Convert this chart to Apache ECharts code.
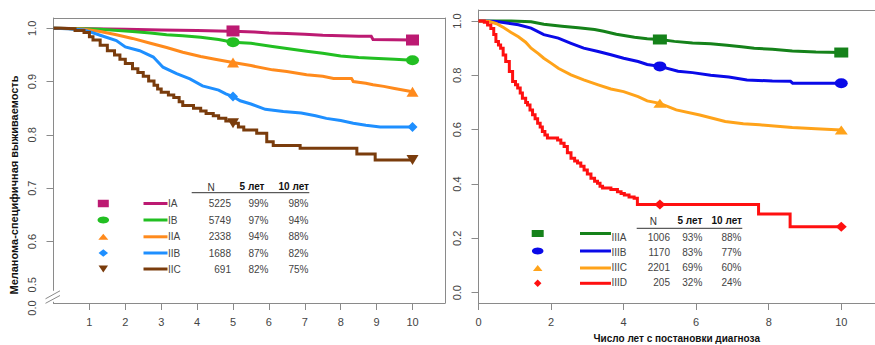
<!DOCTYPE html>
<html><head><meta charset="utf-8">
<script src="https://cdn.jsdelivr.net/npm/echarts@6/dist/echarts.min.js"></script>
<style>html,body{margin:0;padding:0;background:#fff}#c{width:875px;height:345px}</style>
</head><body><div id="c"></div>
<script>
// ---------------- DATA ----------------
// Left panel: stage I–II (time in years, melanoma-specific survival)
const IA  = [[0,1],[1,0.999],[2,0.998],[3,0.997],[4,0.996],[4.6,0.995],[5.2,0.994],[5.6,0.993],[6,0.991],[6.5,0.990],[7,0.989],[7.5,0.987],[8,0.986],[8.5,0.985],[8.85,0.985],[8.9,0.979],[10,0.978]];
const IB  = [[0,1],[0.8,0.999],[1.3,0.998],[1.8,0.996],[2.2,0.994],[2.7,0.991],[3.15,0.988],[3.6,0.986],[4.1,0.983],[4.6,0.979],[5,0.974],[5.5,0.972],[6.1,0.966],[6.5,0.962],[7.05,0.957],[7.5,0.953],[8.0,0.948],[8.5,0.945],[8.9,0.944],[9.5,0.942],[10,0.94]];
const IIA = [[0,1],[0.5,0.999],[0.85,0.998],[1.3,0.994],[1.75,0.988],[2.2,0.981],[2.7,0.972],[3.15,0.964],[3.6,0.955],[4.1,0.947],[4.5,0.942],[5,0.936],[5.5,0.93],[6.1,0.922],[6.5,0.919],[7.05,0.913],[7.5,0.91],[7.8,0.906],[8.3,0.906],[8.35,0.9],[8.7,0.897],[8.9,0.894],[9.2,0.891],[9.5,0.887],[10,0.881]];
const IIB = [[0,1],[0.4,0.999],[0.85,0.997],[1.3,0.987],[1.75,0.977],[2.0,0.965],[2.4,0.958],[2.78,0.946],[3.05,0.927],[3.43,0.915],[3.8,0.905],[4.15,0.892],[4.6,0.884],[4.8,0.877],[5,0.872],[5.2,0.864],[5.5,0.858],[5.9,0.848],[6.4,0.844],[6.9,0.841],[7.3,0.836],[7.6,0.831],[8.0,0.827],[8.35,0.822],[8.7,0.818],[9.1,0.815],[10,0.815]];
const IIC = [[0,1],[0.2,0.999],[0.6,0.996],[0.85,0.992],[1.0,0.984],[1.1,0.978],[1.3,0.968],[1.5,0.958],[1.7,0.95],[1.85,0.942],[2.0,0.934],[2.2,0.924],[2.35,0.917],[2.5,0.91],[2.65,0.901],[2.8,0.893],[2.9,0.886],[3.0,0.88],[3.2,0.875],[3.35,0.87],[3.5,0.862],[3.6,0.855],[3.9,0.85],[4.1,0.845],[4.25,0.84],[4.45,0.836],[4.6,0.831],[4.8,0.826],[5,0.822],[5.15,0.815],[5.3,0.809],[5.66,0.803],[5.94,0.787],[6.12,0.78],[6.87,0.775],[8.45,0.764],[8.96,0.753],[10,0.753]];
// Right panel: stage III
const IIIA = [[0,1],[0.9,1],[1.45,0.997],[1.8,0.988],[2.3,0.981],[2.75,0.975],[3.2,0.969],[3.45,0.962],[3.8,0.951],[4.3,0.94],[4.65,0.935],[5,0.932],[5.4,0.925],[5.9,0.919],[6.4,0.916],[6.85,0.911],[7.25,0.905],[7.6,0.9],[8.1,0.896],[8.65,0.89],[9.3,0.886],[10,0.884]];
const IIIB = [[0,1],[0.5,0.998],[1.1,0.986],[1.45,0.974],[1.8,0.95],[2.2,0.937],[2.55,0.918],[2.9,0.90],[3.3,0.888],[3.65,0.876],[4.0,0.863],[4.4,0.851],[4.65,0.84],[5,0.833],[5.5,0.815],[5.9,0.81],[6.4,0.80],[6.9,0.794],[7.4,0.783],[8.1,0.779],[8.6,0.778],[8.66,0.771],[10,0.771]];
const IIIC = [[0,1],[0.3,0.998],[0.5,0.99],[0.7,0.975],[0.9,0.958],[1.1,0.942],[1.3,0.922],[1.45,0.90],[1.65,0.88],[1.8,0.863],[2.0,0.845],[2.2,0.826],[2.55,0.802],[2.9,0.783],[3.3,0.765],[3.65,0.75],[4.0,0.74],[4.4,0.722],[4.65,0.706],[5,0.697],[5.45,0.673],[6.1,0.654],[6.8,0.63],[7.3,0.622],[7.75,0.618],[8.65,0.608],[9.3,0.603],[10,0.599]];
const IIID = [[0,1],[0.16,0.995],[0.25,0.985],[0.34,0.972],[0.42,0.95],[0.48,0.925],[0.55,0.912],[0.61,0.9],[0.68,0.875],[0.75,0.851],[0.85,0.814],[0.94,0.777],[1.02,0.765],[1.08,0.753],[1.15,0.735],[1.21,0.716],[1.3,0.70],[1.35,0.691],[1.42,0.672],[1.49,0.655],[1.56,0.64],[1.63,0.624],[1.7,0.61],[1.76,0.593],[1.83,0.58],[1.9,0.569],[2.18,0.562],[2.27,0.55],[2.36,0.538],[2.45,0.515],[2.55,0.495],[2.65,0.485],[2.73,0.477],[2.82,0.465],[2.91,0.452],[3.0,0.437],[3.1,0.421],[3.2,0.41],[3.28,0.403],[3.35,0.392],[3.42,0.385],[3.65,0.38],[3.83,0.372],[3.93,0.365],[4.02,0.36],[4.15,0.352],[4.29,0.348],[4.38,0.325],[7.72,0.29],[8.59,0.243],[10,0.243]];

const markerTimes = [5, 10];

const leftStages = ['IA','IB','IIA','IIB','IIC'];
const leftN      = [5225, 5749, 2338, 1688, 691];
const left5yr    = [99, 97, 94, 87, 82];
const left10yr   = [98, 94, 88, 82, 75];

const rightStages = ['IIIA','IIIB','IIIC','IIID'];
const rightN      = [1006, 1170, 2201, 205];
const right5yr    = [93, 83, 69, 32];
const right10yr   = [88, 77, 60, 24];

const tableHeaders = ['N', '5 лет', '10 лет'];

const leftXTicks  = [1,2,3,4,5,6,7,8,9,10];
const rightXTicks = [0,2,4,6,8,10];
const leftYTicks  = [0.5,0.6,0.7,0.8,0.9,1.0];
const rightYTicks = [0,0.2,0.4,0.6,0.8,1.0];

const yTitle = 'Меланома-специфичная выживаемость';
const xTitle = 'Число лет с постановки диагноза';

// ---------------- STYLE / LAYOUT ----------------
const FONT = '"Liberation Sans", Arial, Helvetica, sans-serif';
const AX = '#8a8a8a';
const TXT = '#444';
const ELLIPSE = 'path://M0,10a10,10 0 1,0 20,0a10,10 0 1,0 -20,0z';

const leftStyle = [
  {color:'#bc1a72', symbol:'rect', size:[13,11], rot:0, step:false},
  {color:'#22bf22', symbol:ELLIPSE, size:[13,10], rot:0, step:false},
  {color:'#ff8a1c', symbol:'triangle', size:[12,10], rot:0, step:false},
  {color:'#1e8fff', symbol:'diamond', size:[10,10], rot:0, step:false},
  {color:'#7a3c0c', symbol:'triangle', size:[12,10], rot:180, step:'end'}
];
const rightStyle = [
  {color:'#15821a', symbol:'rect', size:[14,10], rot:0, step:false},
  {color:'#0a0ae8', symbol:ELLIPSE, size:[13,10], rot:0, step:false},
  {color:'#ffa31a', symbol:'triangle', size:[13,9], rot:0, step:false},
  {color:'#ff1010', symbol:'diamond', size:[11,10], rot:0, step:'end'}
];
const leftCurves = [IA, IB, IIA, IIB, IIC];
const rightCurves = [IIIA, IIIB, IIIC, IIID];

const LEFT_Y_MIN = 0.4846, LEFT_Y_MAX = 1.0193, LEFT_X_MAX = 10.905;
const RIGHT_Y_MIN = -0.0379, RIGHT_Y_MAX = 1.0405, RIGHT_X_MAX = 10.93;

function valAt(arr, t){ let v = arr[0][1]; for (const p of arr){ if (p[0] <= t + 1e-9) v = p[1]; } return v; }

const series = [];
function addGroup(curves, styles, names, gi){
  curves.forEach((c, i) => {
    const s = styles[i];
    series.push({type:'line', name:names[i], xAxisIndex:gi*2, yAxisIndex:gi*2, data:c, step:s.step,
      showSymbol:false, symbol:'none', lineStyle:{color:s.color, width:3, join:'miter'}, itemStyle:{color:s.color},
      silent:true, animation:false, z:2});
    series.push({type:'scatter', name:names[i]+' m', xAxisIndex:gi*2, yAxisIndex:gi*2,
      data: markerTimes.map(t => [t, valAt(c, t)]), symbol:s.symbol, symbolSize:s.size, symbolRotate:s.rot,
      itemStyle:{color:s.color, opacity:1}, silent:true, animation:false, z:3});
  });
}
addGroup(leftCurves, leftStyle, leftStages, 0);
addGroup(rightCurves, rightStyle, rightStages, 1);

// ---------------- TABLES (graphic) ----------------
const graphic = [];
function markerShape(kind, x, y, w, h, color){
  const st = {fill: color};
  if (kind === 'rect') return {type:'rect', x, y, shape:{x:-w/2, y:-h/2, width:w, height:h}, style:st, z:100};
  if (kind === 'ellipse') return {type:'circle', x, y, scaleY:h/w, shape:{cx:0, cy:0, r:w/2}, style:st, z:100};
  if (kind === 'tri') return {type:'polygon', x, y, shape:{points:[[-w/2,h/2],[w/2,h/2],[0,-h/2]]}, style:st, z:100};
  if (kind === 'dtri') return {type:'polygon', x, y, shape:{points:[[-w/2,-h/2],[w/2,-h/2],[0,h/2]]}, style:st, z:100};
  return {type:'polygon', x, y, shape:{points:[[-w/2,0],[0,-h/2],[w/2,0],[0,h/2]]}, style:st, z:100};
}
function txt(text, x, y, align, bold, color){
  return {type:'text', x, y, z:100, style:{text:String(text), fill:color||TXT, font:(bold?'bold ':'')+'10px '+FONT,
    align:align, verticalAlign:'middle', textAlign:align, textVerticalAlign:'middle'}};
}
function buildTable(cfg){
  const {stages, N, y5, y10, styles, kinds, ksz, rowY, mkY, mx, lx0, lx1, labX, nX, c5X, c10X, hdrY, hN, h5, h10, ulY, ul0, ul1} = cfg;
  graphic.push(txt(tableHeaders[0], hN, hdrY+1, 'center', false, '#333'));
  graphic.push(txt(tableHeaders[1], h5, hdrY, 'right', true, '#111'));
  graphic.push(txt(tableHeaders[2], h10, hdrY, 'right', true, '#111'));
  graphic.push({type:'line', z:100, shape:{x1:ul0, y1:ulY, x2:ul1, y2:ulY}, style:{stroke:'#333', lineWidth:1}});
  stages.forEach((s, i) => {
    const col = styles[i].color;
    graphic.push(markerShape(kinds[i], mx, mkY[i], ksz[i][0], ksz[i][1], col));
    graphic.push({type:'line', z:100, shape:{x1:lx0, y1:mkY[i], x2:lx1, y2:mkY[i]}, style:{stroke:col, lineWidth:3}});
    graphic.push(txt(s, labX, rowY[i], 'left'));
    graphic.push(txt(N[i], nX, rowY[i], 'right'));
    graphic.push(txt(y5[i] + '%', c5X, rowY[i], 'right'));
    graphic.push(txt(y10[i] + '%', c10X, rowY[i], 'right'));
  });
}
buildTable({stages:leftStages, N:leftN, y5:left5yr, y10:left10yr, styles:leftStyle,
  kinds:['rect','ellipse','tri','diamond','dtri'], ksz:[[11,7.5],[11.5,7],[10,6],[9.5,7.5],[9.5,7]],
  rowY:[203.5,220,236.8,253,269], mkY:[203.5,220,236.8,253,269], mx:103.3, lx0:143.5, lx1:167.5, labX:168,
  nX:231, c5X:268.5, c10X:308.5, hdrY:186.5, hN:211, h5:264.5, h10:309, ulY:192.7, ul0:191.7, ul1:309.3});
buildTable({stages:rightStages, N:rightN, y5:right5yr, y10:right10yr, styles:rightStyle,
  kinds:['rect','ellipse','tri','diamond'], ksz:[[12,7],[11.5,7],[9.5,6],[7.5,7.5]],
  rowY:[237.5,252.5,267.8,282.8], mkY:[233.5,251,268,283.3], mx:537.7, lx0:580, lx1:611, labX:611.5,
  nX:670, c5X:702.3, c10X:741.5, hdrY:220.5, hN:653.3, h5:702.3, h10:742, ulY:228.3, ul0:636.7, ul1:742.3});

// axis break marks on the left panel
graphic.push({type:'rect', z:101, shape:{x:48.5, y:290.8, width:10, height:11}, style:{fill:'#fff'}});
graphic.push({type:'line', z:102, shape:{x1:45.5, y1:298.8, x2:60, y2:290.8}, style:{stroke:AX, lineWidth:1}});
graphic.push({type:'line', z:102, shape:{x1:45.5, y1:303.3, x2:60, y2:295.5}, style:{stroke:AX, lineWidth:1}});
// right panel y-axis overhang
graphic.push({type:'line', z:102, shape:{x1:478.5, y1:303, x2:478.5, y2:309}, style:{stroke:AX, lineWidth:1}});

// ---------------- AXES ----------------
const lineSt = {color:AX, width:1};
const labSt = {color:TXT, fontSize:11, fontFamily:FONT};
function frameAxis(pos, gi, min, max){
  return {type:'value', gridIndex:gi, position:pos, min, max, axisLine:{show:true, onZero:false, lineStyle:lineSt},
    axisTick:{show:false}, axisLabel:{show:false}, splitLine:{show:false}};
}
const option = {
  animation:false,
  backgroundColor:'#fff',
  grid:[
    {left:53.5, top:18, width:391.5, height:285, outerBoundsMode:'none', containLabel:false},
    {left:478.5, top:10, width:396.5, height:293, outerBoundsMode:'none', containLabel:false}
  ],
  xAxis:[
    {type:'value', gridIndex:0, position:'bottom', min:0, max:LEFT_X_MAX,
      axisLine:{show:true, onZero:false, lineStyle:lineSt},
      axisTick:{show:true, length:7, inside:false, customValues:leftXTicks, lineStyle:lineSt},
      axisLabel:{show:true, customValues:leftXTicks, margin:13, ...labSt, formatter:v=>String(v)},
      splitLine:{show:false}},
    frameAxis('top', 0, 0, LEFT_X_MAX),
    {type:'value', gridIndex:1, position:'bottom', min:0, max:RIGHT_X_MAX,
      axisLine:{show:true, onZero:false, lineStyle:lineSt},
      axisTick:{show:true, length:7, inside:false, customValues:rightXTicks, lineStyle:lineSt},
      axisLabel:{show:true, customValues:rightXTicks, margin:13, ...labSt, formatter:v=>String(v)},
      splitLine:{show:false},
      name:xTitle, nameLocation:'middle', nameGap:30,
      nameTextStyle:{fontFamily:FONT, fontSize:10, fontWeight:'bold', color:'#111'}},
    frameAxis('top', 1, 0, RIGHT_X_MAX)
  ],
  yAxis:[
    {type:'value', gridIndex:0, position:'left', min:LEFT_Y_MIN, max:LEFT_Y_MAX,
      axisLine:{show:true, onZero:false, lineStyle:lineSt},
      axisTick:{show:true, length:7, customValues:leftYTicks.filter(v=>v>0.55), lineStyle:lineSt},
      axisLabel:{show:true, customValues:[LEFT_Y_MIN].concat(leftYTicks), rotate:90, margin:16, ...labSt,
        formatter:v => v < 0.49 ? '{z|0.0}' : (Math.abs(v-0.5) < 1e-6 ? '{h|0.5}' : '{n|' + v.toFixed(1) + '}'),
        rich:{n:{...labSt}, h:{...labSt, padding:[0,0,0,20]}, z:{...labSt, padding:[0,10,0,0]}}},
      splitLine:{show:false},
      name:yTitle, nameLocation:'middle', nameRotate:90, nameGap:34,
      nameTextStyle:{fontFamily:FONT, fontSize:11, fontWeight:'bold', color:'#111', padding:[0,49,0,0]}},
    frameAxis('right', 0, LEFT_Y_MIN, LEFT_Y_MAX),
    {type:'value', gridIndex:1, position:'left', min:RIGHT_Y_MIN, max:RIGHT_Y_MAX,
      axisLine:{show:true, onZero:false, lineStyle:lineSt},
      axisTick:{show:true, length:7, customValues:rightYTicks, lineStyle:lineSt},
      axisLabel:{show:true, customValues:rightYTicks, rotate:90, margin:16, ...labSt, formatter:v=>v.toFixed(1)},
      splitLine:{show:false}},
    frameAxis('right', 1, RIGHT_Y_MIN, RIGHT_Y_MAX)
  ],
  series: series,
  graphic: {elements: graphic}
};
const chart = echarts.init(document.getElementById('c'), null, {renderer:'svg', width:875, height:345});
chart.setOption(option);
</script>
</body></html>
